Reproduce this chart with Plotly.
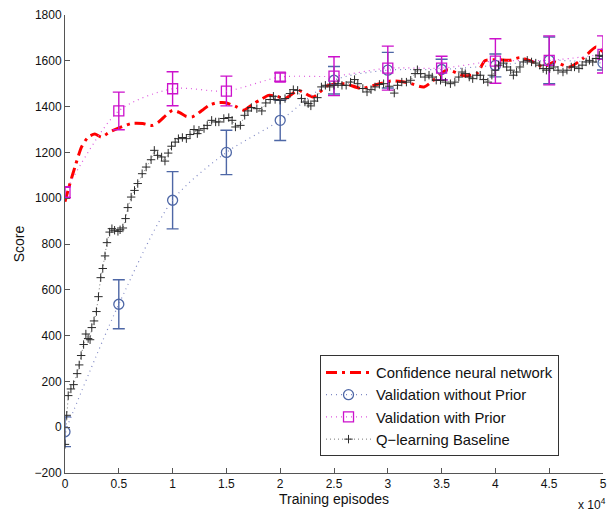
import plotly.graph_objects as go

# ---------------- data ----------------
val_episodes = [0, 5000, 10000, 15000, 20000, 25000, 30000, 35000, 40000, 45000, 50000]
xtick_vals = [0, 5000, 10000, 15000, 20000, 25000, 30000, 35000, 40000, 45000, 50000]
xtick_text = ["0", "0.5", "1", "1.5", "2", "2.5", "3", "3.5", "4", "4.5", "5"]
ytick_vals = [-200, 0, 200, 400, 600, 800, 1000, 1200, 1400, 1600, 1800]

no_prior = [-20, 537, 991, 1200, 1340, 1515, 1559, 1562, 1580, 1602, 1590]
no_prior_err = [65, 107, 125, 97, 88, 60, 78, 45, 50, 102, 30]

with_prior = [1026, 1381, 1478, 1468, 1529, 1533, 1568, 1568, 1599, 1602, 1628]
with_prior_err = [24, 82, 74, 65, 18, 85, 96, 52, 97, 107, 81]

cnn_episodes = [0, 460, 920, 1540, 2150, 2770, 3390, 4150, 5070, 6150, 7220, 8150,
                8760, 9380, 9990, 10610, 11230, 11810, 12760, 13380, 14140, 14920,
                15990, 16600, 17530, 18170, 18910, 19680, 20450, 21680, 23060, 24450,
                25990, 27520, 28750, 30290, 31830, 33370, 35510, 37060, 38280, 39020,
                40130, 41330, 42280, 43510, 44440, 45480, 46890, 48130, 49350, 50000]
cnn_score = [985, 1064, 1136, 1224, 1267, 1280, 1267, 1289, 1308, 1326, 1326, 1318,
             1335, 1362, 1384, 1375, 1358, 1355, 1384, 1406, 1417, 1417,
             1398, 1384, 1413, 1430, 1449, 1445, 1435, 1471, 1442, 1493,
             1500, 1479, 1493, 1512, 1505, 1486, 1560, 1535, 1544, 1600,
             1605, 1602, 1614, 1595, 1573, 1595, 1573, 1610, 1660, 1640]

q_episodes = [0, 160, 300, 550, 800, 1130, 1320, 1500, 1730, 1940, 2150, 2330, 2490,
              2700, 2920, 3110, 3320, 3510, 3720, 3900, 4150, 4360, 4610, 4920, 5120,
              5380, 5630, 5840, 6150, 6460, 6760, 7170, 7540, 8000, 8300, 8610, 8980,
              9290, 9590, 9900, 10240, 10540, 10910, 11280, 11620, 11990, 12300, 12450,
              12920, 13220, 13630, 14000, 14300, 14760, 15220, 15530, 15840, 16300,
              16700, 17000, 17320, 17830, 18290, 18660, 19070, 19370, 19530, 19990,
              20450, 20910, 21220, 21620, 21980, 22300, 22600, 22850, 23160, 23460,
              23830, 24200, 24600, 25000, 25370, 25740, 26130, 26540, 26910, 27210,
              27680, 28070, 28440, 28810, 29220, 29610, 30140, 30600, 30900, 31300,
              31730, 32130, 32540, 32750, 33050, 33460, 33830, 34130, 34500, 34900,
              35360, 35820, 36230, 36600, 36900, 37200, 37570, 37890, 38280, 38590,
              38900, 39300, 39670, 39970, 40290, 40750, 41050, 41420, 41670, 41970,
              42280, 42590, 42960, 43360, 43750, 44120, 44440, 44740, 45050, 45420,
              45820, 46280, 46650, 47050, 47350, 47760, 48060, 48430, 48740, 49050,
              49350, 49660, 50000]
q_score = [-75, 52, 138, 167, 186, 234, 272, 313, 361, 407, 387, 382, 435,
           464, 505, 570, 653, 693, 748, 806, 852, 867, 860, 855, 862,
           870, 911, 959, 1005, 1034, 1064, 1107, 1136, 1168, 1209, 1187, 1180,
           1162, 1197, 1227, 1245, 1260, 1265, 1260, 1278, 1300, 1282, 1297,
           1304, 1318, 1340, 1333, 1333, 1348, 1352, 1340, 1311, 1318,
           1362, 1381, 1396, 1391, 1381, 1416, 1431, 1445, 1431, 1428,
           1435, 1457, 1474, 1471, 1435, 1420, 1413, 1403, 1424, 1439,
           1486, 1493, 1486, 1493, 1500, 1493, 1493, 1507, 1518, 1500,
           1479, 1464, 1474, 1486, 1497, 1500, 1489, 1459, 1493, 1507,
           1507, 1515, 1544, 1561, 1544, 1529, 1537, 1529, 1515, 1515,
           1507, 1500, 1507, 1529, 1551, 1544, 1529, 1522, 1537, 1537,
           1518, 1507, 1537, 1559, 1581, 1590, 1573, 1559, 1537, 1551,
           1573, 1595, 1602, 1595, 1590, 1581, 1566, 1559, 1566, 1573,
           1559, 1551, 1559, 1573, 1573, 1566, 1581, 1595, 1602, 1595,
           1610, 1624, 1620]

# ---------------- styles ----------------
FONT = "Arial, Liberation Sans, Helvetica, sans-serif"
RED = "#ff0000"
BLUE = "#4e67a6"
MAGENTA = "#cc11cc"

fig = go.Figure()

fig.add_trace(go.Scatter(
    x=cnn_episodes, y=cnn_score, mode="lines", name="Confidence neural network",
    line=dict(color=RED, width=3, dash="11px,5px,3px,5px", shape="spline", smoothing=0.6),
))

fig.add_trace(go.Scatter(
    x=val_episodes, y=no_prior, mode="lines+markers", name="Validation without Prior",
    line=dict(color="#7f88c4", width=1.2, dash="1px,4px", shape="spline", smoothing=0.8),
    marker=dict(symbol="circle-open", size=10, color=BLUE, line=dict(width=1.3, color=BLUE)),
    error_y=dict(type="data", array=no_prior_err, color=BLUE, thickness=1.4, width=6),
))

fig.add_trace(go.Scatter(
    x=val_episodes, y=with_prior, mode="lines+markers", name="Validation with Prior",
    line=dict(color="#dd55dd", width=1.2, dash="1px,4px", shape="spline", smoothing=0.8),
    marker=dict(symbol="square-open", size=10, color=MAGENTA, line=dict(width=1.3, color=MAGENTA)),
    error_y=dict(type="data", array=with_prior_err, color=MAGENTA, thickness=1.4, width=6),
))

fig.add_trace(go.Scatter(
    x=q_episodes, y=q_score, mode="lines+markers", name="Q\u2212learning Baseline",
    line=dict(color="#777777", width=1, dash="1px,3px"),
    marker=dict(symbol="cross-thin", size=6, color="#2a2a2a", line=dict(width=1, color="#2a2a2a")),
))

axis_common = dict(
    showgrid=False, zeroline=False, showline=True, linecolor="#555555", linewidth=1,
    ticks="inside", ticklen=5, tickcolor="#555555", mirror=False,
    tickfont=dict(family=FONT, size=12, color="#111111"),
)

fig.update_layout(
    width=615, height=515,
    margin=dict(l=65, r=8, t=15, b=42),
    paper_bgcolor="white", plot_bgcolor="white",
    font=dict(family=FONT, size=12, color="#111111"),
    showlegend=True,
    legend=dict(
        x=0.474, y=0.257, xanchor="left", yanchor="top",
        bgcolor="white", bordercolor="#333333", borderwidth=1,
        font=dict(family=FONT, size=14.8, color="#111111"),
        itemwidth=45, tracegroupgap=0,
        entrywidth=275, entrywidthmode="pixels",
    ),
    xaxis=dict(range=[0, 50000], tickvals=xtick_vals, ticktext=xtick_text,
               title=dict(text="Training episodes", font=dict(family=FONT, size=14), standoff=2),
               **axis_common),
    yaxis=dict(range=[-200, 1800], tickvals=ytick_vals,
               title=dict(text="Score", font=dict(family=FONT, size=14), standoff=6),
               **axis_common),
    annotations=[dict(
        text="x 10<sup>4</sup>", xref="paper", yref="paper", x=1.01, y=-0.046,
        xanchor="right", yanchor="top", showarrow=False,
        font=dict(family=FONT, size=12, color="#111111"),
    )],
)

fig.write_html("out.html", config={"displayModeBar": False},
               post_script="document.body.style.margin='0';")
